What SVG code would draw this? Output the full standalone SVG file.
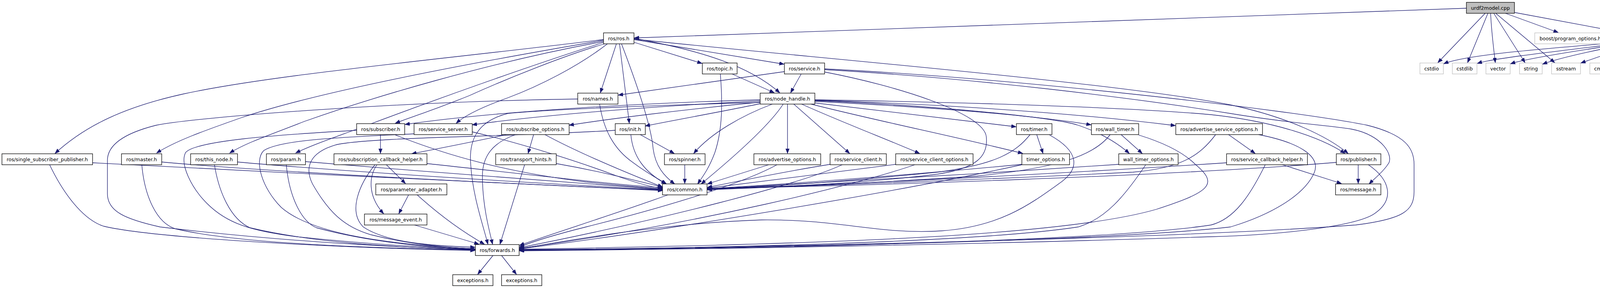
<svg xmlns="http://www.w3.org/2000/svg" width="4897" height="736" viewBox="0 0 4897 736">
<style>
.e{fill:none;stroke:#191970;stroke-width:1.3;marker-end:url(#a)}
.n rect{fill:#fff;stroke:#000;stroke-width:1.3}
.g rect{fill:#fff;stroke:#bfbfbf;stroke-width:1.3}
.r rect{fill:#fff;stroke:#ff4040;stroke-width:1.3}
.root rect{fill:#bfbfbf;stroke:#000;stroke-width:1.3}
text{font-family:"DejaVu Sans","Liberation Sans",sans-serif;font-size:12.6px;text-anchor:middle;fill:#000}
</style>
<defs>
<marker id="a" markerUnits="userSpaceOnUse" markerWidth="13" markerHeight="10" refX="12" refY="4.5" orient="auto"><path d="M0,0 L12,4.5 L0,9 z" fill="#191970" stroke="#191970" stroke-width="1"/></marker>
</defs>
<rect x="0" y="0" width="4897" height="736" fill="#fff"/>
<g id="edges">
<path class="e" d="M3754,21 L1624,97"/>
<path class="e" d="M3802,34 L3681,160"/>
<path class="e" d="M3809,34 L3757,160"/>
<path class="e" d="M3816,34 C3818,80 3823,120 3828,160"/>
<path class="e" d="M3824,34 L3904,160"/>
<path class="e" d="M3829,34 L3980,160"/>
<path class="e" d="M3854,34 L3989,83"/>
<path class="e" d="M3878,32 L4158,84"/>
<path class="e" d="M4152,108 C3950,125 3750,140 3696,163"/>
<path class="e" d="M4150,111 C3950,135 3820,150 3782,162"/>
<path class="e" d="M4157,112 C4000,135 3900,152 3867,163"/>
<path class="e" d="M4167,112 C4050,135 3980,152 3949,164"/>
<path class="e" d="M4192,111 L4047,161"/>
<path class="e" d="M4209,111 L4127,161"/>
<path class="e" d="M4223,111 L4192,161"/>
<path class="e" d="M4242,111 L4271,161"/>
<path class="e" d="M4269,111 L4393,161"/>
<path class="e" d="M4297,111 L4527,162"/>
<path class="e" d="M4313,109 L4647,163"/>
<path class="e" d="M4316,104 C4450,115 4650,135 4783,162"/>
<path class="e" d="M4421,189 L4394,238"/>
<path class="e" d="M4438,189 L4465,238"/>
<path class="e" d="M1578,112 L1537,237"/>
<path class="e" d="M1586,112 L1611,315"/>
<path class="e" d="M1591,112 C1640,240 1668,330 1672,380 C1678,425 1700,450 1727,470"/>
<path class="e" d="M1623,108 L1797,162"/>
<path class="e" d="M1623,101 L2007,164"/>
<path class="e" d="M1623,98 C1800,130 1920,170 1996,237"/>
<path class="e" d="M1623,100 C2100,150 2850,210 3150,268 C3300,300 3400,350 3451,392"/>
<path class="e" d="M1545,101 C1150,150 700,190 470,240 C320,273 220,320 141,392"/>
<path class="e" d="M1545,103 C1150,170 800,240 620,300 C520,335 450,360 401,391"/>
<path class="e" d="M1545,106 C1250,160 950,250 780,310 C690,345 630,365 588,391"/>
<path class="e" d="M1546,108 C1350,170 1100,260 940,320 C860,350 800,370 757,391"/>
<path class="e" d="M1548,112 C1450,140 1300,200 1200,245 C1100,285 1050,300 1012,315"/>
<path class="e" d="M1555,112 C1480,170 1380,220 1300,250 C1230,275 1190,295 1168,315"/>
<path class="e" d="M1479,253 C1000,260 500,300 400,320 C300,345 275,380 275,410 L275,495 C275,540 320,560 410,580 C700,615 1000,632 1216,638"/>
<path class="e" d="M1535,266 C1545,330 1570,380 1620,415 C1660,445 1690,460 1706,470"/>
<path class="e" d="M1874,189 L1982,237"/>
<path class="e" d="M1844,189 C1850,260 1850,330 1830,390 C1815,430 1800,450 1786,470"/>
<path class="e" d="M2051,189 L2024,237"/>
<path class="e" d="M2008,183 L1583,243"/>
<path class="e" d="M2111,184 C2300,220 2520,290 2525,350 C2530,400 2500,430 2400,445 C2200,470 1950,480 1811,483"/>
<path class="e" d="M2111,178 C2500,200 2900,250 3150,290 C3300,315 3400,320 3460,330 C3540,345 3570,400 3553,420 C3540,440 3520,455 3505,470"/>
<path class="e" d="M2111,176 C2600,200 3300,280 3500,320 C3600,345 3620,380 3620,420 L3620,490 C3620,540 3590,560 3470,575 C3000,610 2000,630 1330,640"/>
<path class="e" d="M1946,255 C1700,262 1300,280 1037,318"/>
<path class="e" d="M1946,258 C1700,270 1400,292 1209,319"/>
<path class="e" d="M1946,261 C1750,280 1550,305 1457,320"/>
<path class="e" d="M1946,265 C1850,285 1720,308 1652,322"/>
<path class="e" d="M1977,266 C1900,295 1820,340 1776,392"/>
<path class="e" d="M2005,266 C1970,320 1880,400 1795,470"/>
<path class="e" d="M1946,262 C1700,268 1400,280 1300,290 C1220,310 1200,360 1205,420 C1210,500 1235,570 1249,624"/>
<path class="e" d="M2016,266 L2016,392"/>
<path class="e" d="M2032,266 L2175,392"/>
<path class="e" d="M2052,266 C2150,310 2280,360 2354,392"/>
<path class="e" d="M2086,263 L2601,324"/>
<path class="e" d="M2076,266 C2250,310 2450,350 2618,392"/>
<path class="e" d="M2086,259 C2400,275 2650,295 2793,319"/>
<path class="e" d="M2086,257 C2400,270 2700,300 2760,320 C2820,340 2860,365 2891,392"/>
<path class="e" d="M2086,256 C2500,270 2800,295 3009,321"/>
<path class="e" d="M2086,255 C2500,262 2900,275 3100,293 C3260,310 3380,350 3443,392"/>
<path class="e" d="M1639,344 L1726,392"/>
<path class="e" d="M1615,344 C1620,400 1650,440 1705,470"/>
<path class="e" d="M1575,333 C1300,350 950,350 860,370 C790,390 780,430 800,470 C840,540 880,580 950,600 C1050,625 1150,633 1216,636"/>
<path class="e" d="M1753,421 L1753,469"/>
<path class="e" d="M1296,344 C1200,365 1120,380 1054,393"/>
<path class="e" d="M1366,344 L1352,392"/>
<path class="e" d="M1320,344 C1260,365 1235,400 1235,450 C1235,520 1250,580 1261,624"/>
<path class="e" d="M1395,344 C1480,390 1600,440 1696,478"/>
<path class="e" d="M974,344 L974,392"/>
<path class="e" d="M1010,344 C1150,400 1300,440 1500,465 C1600,475 1660,480 1696,483"/>
<path class="e" d="M913,333 C700,345 500,360 475,390 C460,420 490,480 530,520 C580,570 640,590 760,605 C950,625 1100,633 1216,637"/>
<path class="e" d="M1060,342 C900,350 720,355 675,385 C650,410 670,480 720,530 C800,600 1000,625 1216,636"/>
<path class="e" d="M1209,337 C1350,370 1500,420 1580,450 C1630,468 1670,478 1696,482"/>
<path class="e" d="M237,416 C700,440 1300,470 1696,487"/>
<path class="e" d="M127,421 C160,490 210,560 265,578 C400,610 900,635 1216,640"/>
<path class="e" d="M414,414 C700,440 1300,470 1696,486"/>
<path class="e" d="M363,421 C370,500 400,570 450,585 C600,620 900,633 1216,639"/>
<path class="e" d="M608,414 C900,440 1400,470 1696,485"/>
<path class="e" d="M549,421 C560,490 590,560 640,582 C800,620 1000,632 1216,638"/>
<path class="e" d="M782,413 C1100,440 1500,470 1696,484"/>
<path class="e" d="M733,421 C740,500 770,565 810,582 C950,620 1100,632 1216,638"/>
<path class="e" d="M989,421 L1038,469"/>
<path class="e" d="M965,421 C945,450 940,500 982,546"/>
<path class="e" d="M960,421 C920,470 890,540 930,580 C990,620 1100,628 1216,632"/>
<path class="e" d="M1093,418 C1300,440 1550,470 1696,480"/>
<path class="e" d="M1343,421 L1280,624"/>
<path class="e" d="M1424,418 C1550,440 1640,465 1696,478"/>
<path class="e" d="M1046,498 L1021,546"/>
<path class="e" d="M1068,498 C1120,545 1180,590 1240,624"/>
<path class="e" d="M1061,575 L1226,624"/>
<path class="e" d="M1710,498 C1580,545 1420,595 1330,627"/>
<path class="e" d="M1262,653 L1223,701"/>
<path class="e" d="M1284,653 L1322,701"/>
<path class="e" d="M1968,421 L1811,470"/>
<path class="e" d="M1989,421 C1900,470 1700,530 1500,580 C1420,600 1370,615 1330,631"/>
<path class="e" d="M2125,420 C2000,440 1880,465 1811,479"/>
<path class="e" d="M2156,421 C2050,470 1700,560 1330,633"/>
<path class="e" d="M2293,420 C2100,445 1900,470 1811,481"/>
<path class="e" d="M2342,421 C2200,470 1800,570 1330,635"/>
<path class="e" d="M2654,344 L2670,392"/>
<path class="e" d="M2637,344 C2600,390 2550,420 2400,440 C2100,470 1900,480 1811,484"/>
<path class="e" d="M2687,345 C2760,385 2770,430 2710,470 C2640,520 2560,580 2410,590 C2250,600 2150,560 1950,562 C1700,570 1450,615 1330,636"/>
<path class="e" d="M2616,420 C2300,450 1950,475 1811,482"/>
<path class="e" d="M2616,421 C2300,490 1700,590 1330,636"/>
<path class="e" d="M2870,344 L2924,392"/>
<path class="e" d="M2842,344 C2800,400 2700,430 2500,450 C2200,470 1950,480 1811,485"/>
<path class="e" d="M2915,345 C2980,365 3030,390 3060,420 C3120,470 3100,490 2960,535 C2700,610 2000,625 1330,637"/>
<path class="e" d="M2864,420 C2500,445 2000,475 1811,483"/>
<path class="e" d="M2933,421 C2880,500 2830,560 2760,580 C2500,620 1800,635 1330,638"/>
<path class="e" d="M3145,344 L3213,392"/>
<path class="e" d="M3112,344 C3070,400 3020,430 2900,440 C2500,460 2000,478 1811,483"/>
<path class="e" d="M3222,344 C3330,365 3380,400 3365,440 C3340,500 3250,550 3150,580 C2800,620 1800,635 1330,639"/>
<path class="e" d="M3283,421 L3434,469"/>
<path class="e" d="M3140,416 C2700,445 2100,475 1811,482"/>
<path class="e" d="M3239,421 C3200,500 3160,560 3100,575 C2800,620 1800,637 1330,640"/>
<path class="e" d="M3477,421 L3477,469"/>
<path class="e" d="M3421,415 C3000,450 2200,475 1811,482"/>
<path class="e" d="M3503,421 C3560,460 3570,510 3520,545 C3480,575 3300,600 3100,605 C2500,625 1800,637 1330,641"/>
</g>
<g id="n_urdf2model" class="root"><rect x="3754" y="6" width="123" height="28"/><text x="3815.5" y="24.5">urdf2model.cpp</text></g>
<g id="n_ros" class="n"><rect x="1545" y="84" width="78" height="28"/><text x="1584" y="102.5">ros/ros.h</text></g>
<g id="n_boost" class="g"><rect x="3929" y="84" width="198" height="28"/><text x="4028" y="102.5">boost/program_options.hpp</text></g>
<g id="n_gazebo" class="n"><rect x="4151" y="84" width="165" height="28"/><text x="4233.5" y="102.5">gazebo/urdf2gazebo.h</text></g>
<g id="n_topic" class="n"><rect x="1798" y="161" width="89" height="28"/><text x="1842.5" y="179.5">ros/topic.h</text></g>
<g id="n_service" class="n"><rect x="2008" y="161" width="103" height="28"/><text x="2059.5" y="179.5">ros/service.h</text></g>
<g id="n_cstdio" class="g"><rect x="3635" y="161" width="60" height="28"/><text x="3665" y="179.5">cstdio</text></g>
<g id="n_cstdlib" class="g"><rect x="3718" y="161" width="63" height="28"/><text x="3749.5" y="179.5">cstdlib</text></g>
<g id="n_vector" class="g"><rect x="3804" y="161" width="62" height="28"/><text x="3835" y="179.5">vector</text></g>
<g id="n_string" class="g"><rect x="3890" y="161" width="58" height="28"/><text x="3919" y="179.5">string</text></g>
<g id="n_sstream" class="g"><rect x="3972" y="161" width="74" height="28"/><text x="4009" y="179.5">sstream</text></g>
<g id="n_cmath" class="g"><rect x="4070" y="161" width="62" height="28"/><text x="4101" y="179.5">cmath</text></g>
<g id="n_map" class="g"><rect x="4156" y="161" width="51" height="28"/><text x="4181.5" y="179.5">map</text></g>
<g id="n_urdfmodel" class="n"><rect x="4230" y="161" width="103" height="28"/><text x="4281.5" y="179.5">urdf/model.h</text></g>
<g id="n_link" class="n"><rect x="4356" y="161" width="147" height="28"/><text x="4429.5" y="179.5">urdf_interface/link.h</text></g>
<g id="n_mass" class="g"><rect x="4526" y="161" width="97" height="28"/><text x="4574.5" y="179.5">ode/mass.h</text></g>
<g id="n_rotation" class="g"><rect x="4646" y="161" width="113" height="28"/><text x="4702.5" y="179.5">ode/rotation.h</text></g>
<g id="n_pose" class="g"><rect x="4782" y="161" width="110" height="28"/><text x="4837" y="179.5">math/Pose.hh</text></g>
<g id="n_names" class="n"><rect x="1479" y="238" width="103" height="28"/><text x="1530.5" y="256.5">ros/names.h</text></g>
<g id="n_node_handle" class="n"><rect x="1946" y="238" width="140" height="28"/><text x="2016" y="256.5">ros/node_handle.h</text></g>
<g id="n_color" class="n"><rect x="4354" y="238" width="65" height="28"/><text x="4386.5" y="256.5">color.h</text></g>
<g id="n_joint" class="r"><rect x="4443" y="238" width="61" height="28"/><text x="4473.5" y="256.5">joint.h</text></g>
<g id="n_subscriber" class="n"><rect x="913" y="316" width="123" height="28"/><text x="974.5" y="334.5">ros/subscriber.h</text></g>
<g id="n_service_server" class="n"><rect x="1060" y="316" width="149" height="28"/><text x="1134.5" y="334.5">ros/service_server.h</text></g>
<g id="n_subscribe_options" class="n"><rect x="1284" y="316" width="173" height="28"/><text x="1370.5" y="334.5">ros/subscribe_options.h</text></g>
<g id="n_init" class="n"><rect x="1575" y="316" width="77" height="28"/><text x="1613.5" y="334.5">ros/init.h</text></g>
<g id="n_timer" class="n"><rect x="2602" y="316" width="91" height="28"/><text x="2647.5" y="334.5">ros/timer.h</text></g>
<g id="n_wall_timer" class="n"><rect x="2794" y="316" width="121" height="28"/><text x="2854.5" y="334.5">ros/wall_timer.h</text></g>
<g id="n_adv_srv_opts" class="n"><rect x="3010" y="316" width="222" height="28"/><text x="3121" y="334.5">ros/advertise_service_options.h</text></g>
<g id="n_ssp" class="n"><rect x="5" y="393" width="232" height="28"/><text x="121" y="411.5">ros/single_subscriber_publisher.h</text></g>
<g id="n_master" class="n"><rect x="311" y="393" width="103" height="28"/><text x="362.5" y="411.5">ros/master.h</text></g>
<g id="n_this_node" class="n"><rect x="488" y="393" width="120" height="28"/><text x="548" y="411.5">ros/this_node.h</text></g>
<g id="n_param" class="n"><rect x="682" y="393" width="100" height="28"/><text x="732" y="411.5">ros/param.h</text></g>
<g id="n_sub_cb_helper" class="n"><rect x="855" y="393" width="238" height="28"/><text x="974" y="411.5">ros/subscription_callback_helper.h</text></g>
<g id="n_transport_hints" class="n"><rect x="1269" y="393" width="155" height="28"/><text x="1346.5" y="411.5">ros/transport_hints.h</text></g>
<g id="n_spinner" class="n"><rect x="1701" y="393" width="104" height="28"/><text x="1753" y="411.5">ros/spinner.h</text></g>
<g id="n_adv_opts" class="n"><rect x="1930" y="393" width="171" height="28"/><text x="2015.5" y="411.5">ros/advertise_options.h</text></g>
<g id="n_service_client" class="n"><rect x="2125" y="393" width="144" height="28"/><text x="2197" y="411.5">ros/service_client.h</text></g>
<g id="n_sco" class="n"><rect x="2293" y="393" width="198" height="28"/><text x="2392" y="411.5">ros/service_client_options.h</text></g>
<g id="n_timer_options" class="n"><rect x="2616" y="393" width="122" height="28"/><text x="2677" y="411.5">timer_options.h</text></g>
<g id="n_wto" class="n"><rect x="2864" y="393" width="152" height="28"/><text x="2940" y="411.5">wall_timer_options.h</text></g>
<g id="n_scbh" class="n"><rect x="3140" y="393" width="207" height="28"/><text x="3243.5" y="411.5">ros/service_callback_helper.h</text></g>
<g id="n_publisher" class="n"><rect x="3421" y="393" width="114" height="28"/><text x="3478" y="411.5">ros/publisher.h</text></g>
<g id="n_param_adapter" class="n"><rect x="962" y="470" width="182" height="28"/><text x="1053" y="488.5">ros/parameter_adapter.h</text></g>
<g id="n_common" class="n"><rect x="1696" y="470" width="114" height="28"/><text x="1753" y="488.5">ros/common.h</text></g>
<g id="n_message" class="n"><rect x="3419" y="470" width="116" height="28"/><text x="3477" y="488.5">ros/message.h</text></g>
<g id="n_message_event" class="n"><rect x="933" y="547" width="160" height="28"/><text x="1013" y="565.5">ros/message_event.h</text></g>
<g id="n_forwards" class="n"><rect x="1217" y="625" width="112" height="28"/><text x="1273" y="643.5">ros/forwards.h</text></g>
<g id="n_exceptions1" class="n"><rect x="1159" y="702" width="103" height="28"/><text x="1210.5" y="720.5">exceptions.h</text></g>
<g id="n_exceptions2" class="n"><rect x="1284" y="702" width="103" height="28"/><text x="1335.5" y="720.5">exceptions.h</text></g>
</svg>
